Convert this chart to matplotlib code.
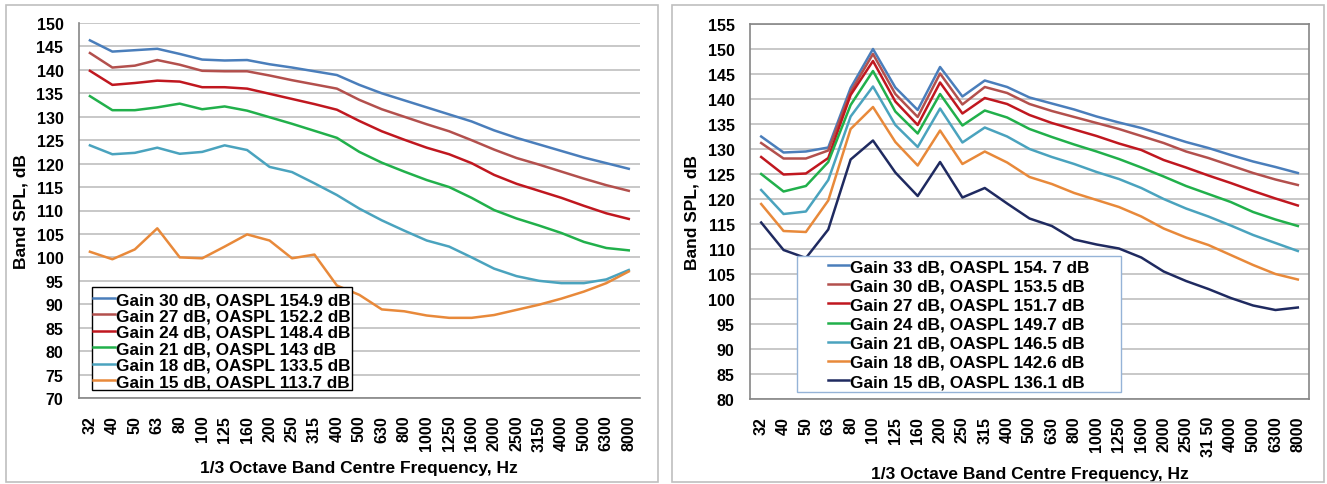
import matplotlib.pyplot as plt
from matplotlib.patches import Rectangle

plt.rcParams['font.family'] = ['Liberation Sans', 'DejaVu Sans']
plt.rcParams['font.weight'] = 'bold'

# 1/3 octave band centre frequencies
freqs = ['32', '40', '50', '63', '80', '100', '125', '160', '200', '250', '315', '400', '500',
         '630', '800', '1000', '1250', '1600', '2000', '2500', '3150', '4000', '5000', '6300', '8000']
freqs_right = ['32', '40', '50', '63', '80', '100', '125', '160', '200', '250', '315', '400', '500',
               '630', '800', '1000', '1250', '1600', '2000', '2500', '31 50', '4000', '5000', '6300', '8000']

# left chart
left_labels = ['Gain 30 dB, OASPL 154.9 dB', 'Gain 27 dB, OASPL 152.2 dB', 'Gain 24 dB, OASPL 148.4 dB',
               'Gain 21 dB, OASPL 143 dB', 'Gain 18 dB, OASPL 133.5 dB', 'Gain 15 dB, OASPL 113.7 dB']
left_g30 = [146.3, 143.9, 144.2, 144.5, 143.4, 142.2, 142.0, 142.1, 141.2, 140.5, 139.7, 138.9, 136.8,
            135.0, 133.5, 132.0, 130.5, 129.0, 127.1, 125.5, 124.1, 122.7, 121.3, 120.1, 118.9]
left_g27 = [143.6, 140.5, 140.9, 142.1, 141.1, 139.8, 139.7, 139.7, 138.8, 137.8, 136.9, 136.0, 133.6,
            131.6, 130.0, 128.4, 126.9, 125.0, 123.0, 121.2, 119.8, 118.3, 116.8, 115.4, 114.2]
left_g24 = [139.8, 136.8, 137.2, 137.7, 137.5, 136.3, 136.3, 136.0, 134.9, 133.8, 132.7, 131.5, 129.1,
            126.9, 125.1, 123.4, 122.0, 120.1, 117.6, 115.7, 114.2, 112.7, 111.0, 109.4, 108.2]
left_g21 = [134.4, 131.4, 131.4, 132.0, 132.8, 131.6, 132.2, 131.3, 129.9, 128.5, 127.0, 125.5, 122.5,
            120.2, 118.3, 116.5, 115.0, 112.7, 110.1, 108.3, 106.8, 105.2, 103.3, 102.0, 101.5]
left_g18 = [123.9, 122.0, 122.3, 123.4, 122.1, 122.5, 123.9, 122.9, 119.3, 118.2, 115.8, 113.3, 110.4,
            107.9, 105.7, 103.6, 102.3, 100.0, 97.6, 96.0, 95.0, 94.5, 94.5, 95.3, 97.3]
left_g15 = [101.2, 99.6, 101.7, 106.2, 100.0, 99.8, 102.3, 104.9, 103.6, 99.8, 100.6, 94.0, 92.0,
            88.9, 88.5, 87.6, 87.1, 87.1, 87.7, 88.8, 89.9, 91.2, 92.7, 94.5, 97.0]

# right chart
right_labels = ['Gain 33 dB, OASPL 154. 7 dB', 'Gain 30 dB, OASPL 153.5 dB', 'Gain 27 dB, OASPL 151.7 dB',
                'Gain 24 dB, OASPL 149.7 dB', 'Gain 21 dB, OASPL 146.5 dB', 'Gain 18 dB, OASPL 142.6 dB',
                'Gain 15 dB, OASPL 136.1 dB']
right_g33 = [132.5, 129.3, 129.5, 130.3, 142.2, 150.0, 142.3, 137.8, 146.4, 140.5, 143.7, 142.4, 140.3,
             139.1, 137.9, 136.5, 135.3, 134.2, 132.8, 131.4, 130.2, 128.8, 127.5, 126.4, 125.2]
right_g30 = [131.2, 128.1, 128.1, 129.7, 141.4, 149.0, 141.0, 136.4, 145.1, 138.9, 142.4, 141.2, 139.0,
             137.6, 136.4, 135.2, 134.0, 132.6, 131.2, 129.5, 128.2, 126.7, 125.2, 123.9, 122.8]
right_g27 = [128.4, 124.9, 125.1, 128.2, 140.8, 147.6, 139.5, 134.8, 143.3, 137.1, 140.2, 139.0, 136.8,
             135.2, 133.9, 132.6, 131.1, 129.8, 127.8, 126.3, 124.7, 123.2, 121.6, 120.1, 118.7]
right_g24 = [125.0, 121.5, 122.6, 127.4, 138.8, 145.6, 137.5, 133.1, 141.0, 134.7, 137.7, 136.3, 134.0,
             132.4, 130.9, 129.5, 128.0, 126.3, 124.5, 122.6, 121.0, 119.4, 117.4, 115.9, 114.6]
right_g21 = [121.8, 117.0, 117.5, 123.8, 136.5, 142.5, 134.8, 130.4, 138.1, 131.3, 134.3, 132.5, 130.0,
             128.4, 127.0, 125.4, 124.0, 122.2, 120.0, 118.1, 116.5, 114.7, 112.8, 111.2, 109.6]
right_g18 = [119.0, 113.6, 113.4, 119.7, 134.0, 138.4, 131.4, 126.7, 133.7, 127.0, 129.5, 127.3, 124.4,
             123.0, 121.2, 119.8, 118.4, 116.5, 114.1, 112.3, 110.8, 108.8, 106.8, 105.0, 103.9]
right_g15 = [115.3, 109.8, 108.2, 113.9, 127.9, 131.7, 125.3, 120.6, 127.4, 120.3, 122.2, 119.1, 116.1,
             114.6, 111.9, 110.9, 110.1, 108.3, 105.5, 103.6, 102.0, 100.2, 98.7, 97.8, 98.3]

left_colors = ['#4A7EBB', '#B3504D', '#C0171F', '#21B04B', '#4AA3BE', '#E8893A']
right_colors = ['#4A7EBB', '#B3504D', '#C0171F', '#21B04B', '#4AA3BE', '#E8893A', '#1F2A60']

W, H = 1327, 485
fig = plt.figure(figsize=(W / 100, H / 100), dpi=100)


def px(x0, y0, x1, y1):
    # pixel box (top-left origin) -> figure fraction rect
    return [x0 / W, 1 - y1 / H, (x1 - x0) / W, (y1 - y0) / H]


# chart area frames
for x0, x1 in [(6, 658), (672, 1324)]:
    fig.patches.append(Rectangle((x0 / W, 2 / H), (x1 - x0) / W, 477 / H, transform=fig.transFigure,
                                 facecolor='none', edgecolor='#BFBFBF', lw=1.2))


def setup(ax, labels, ymin, ymax):
    ax.set_xlim(-0.5, len(labels) - 0.5)
    ax.set_ylim(ymin, ymax)
    ax.set_yticks(range(ymin, ymax + 1, 5))
    ax.set_xticks(range(len(labels)))
    ax.set_xticklabels(labels, rotation=90)
    ax.tick_params(axis='both', length=0, labelsize=11.5)
    ax.tick_params(axis='x', pad=12)
    ax.tick_params(axis='y', pad=11)
    ax.grid(axis='y', color='#BFBFBF', lw=1.2)
    ax.set_axisbelow(True)
    for s in ax.spines.values():
        s.set_color('#868686')
        s.set_linewidth(1.2)
    ax.set_ylabel('Band SPL, dB', fontsize=12.5, fontweight='bold', labelpad=6)
    ax.set_xlabel('1/3 Octave Band Centre Frequency, Hz', fontsize=12.5, fontweight='bold', labelpad=7)


# ---- left chart ----
ax1 = fig.add_axes(px(78.7, 24, 640, 399))
setup(ax1, freqs, 70, 150)
ax1.spines['top'].set_visible(False)
ax1.spines['right'].set_visible(False)
left_series = [left_g30, left_g27, left_g24, left_g21, left_g18, left_g15]
for vals, c, lab in zip(left_series, left_colors, left_labels):
    ax1.plot(range(len(freqs)), vals, color=c, lw=1.8, label=lab)

ax1.add_patch(Rectangle((91.7 / W, 1 - 391 / H), 260 / W, 103 / H, transform=fig.transFigure,
                        facecolor='white', edgecolor='black', lw=1.0, zorder=4))
leg1 = ax1.legend(loc='upper left', bbox_to_anchor=(93 / W, 1 - 293 / H), bbox_transform=fig.transFigure,
                  frameon=False, fontsize=12.4, borderpad=0, borderaxespad=0, handlelength=1.25,
                  handletextpad=0.08, labelspacing=0.08)
leg1.set_zorder(5)

# ---- right chart ----
ax2 = fig.add_axes(px(750, 25, 1309, 400))
setup(ax2, freqs_right, 80, 155)
right_series = [right_g33, right_g30, right_g27, right_g24, right_g21, right_g18, right_g15]
for vals, c, lab in zip(right_series, right_colors, right_labels):
    ax2.plot(range(len(freqs_right)), vals, color=c, lw=1.8, label=lab)

ax2.add_patch(Rectangle((796.7 / W, 1 - 393 / H), 324.3 / W, 136.3 / H, transform=fig.transFigure,
                        facecolor='white', edgecolor='#95B3D7', lw=1.0, zorder=4))
leg2 = ax2.legend(loc='upper left', bbox_to_anchor=(828 / W, 1 - 260 / H), bbox_transform=fig.transFigure,
                  frameon=False, fontsize=12.4, borderpad=0, borderaxespad=0, handlelength=1.2,
                  handletextpad=0.08, labelspacing=0.24)
leg2.set_zorder(5)

fig.savefig('out.png', dpi=100)
